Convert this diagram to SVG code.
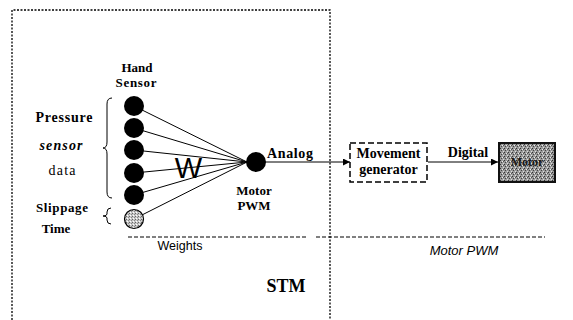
<svg xmlns="http://www.w3.org/2000/svg" width="573" height="320" viewBox="0 0 573 320">
<style>
.serif{font-family:"Liberation Serif","Times New Roman",serif;fill:#000}
.b{font-weight:bold}
.sans{font-family:"Liberation Sans",Arial,sans-serif;fill:#000}
.border{fill:none;stroke:#000;stroke-width:1.3;stroke-dasharray:2 1.5}
.wire{stroke:#000;stroke-width:1;fill:none}
.node{fill:#000}
</style>
<defs>
<pattern id="stip" width="4" height="4" patternUnits="userSpaceOnUse">
<rect width="4" height="4" fill="#9a9a9a"/>
<rect x="0" y="0" width="1" height="1" fill="#333"/>
<rect x="2" y="1" width="1" height="1" fill="#eee"/>
<rect x="1" y="2" width="1" height="1" fill="#444"/>
<rect x="3" y="3" width="1" height="1" fill="#ddd"/>
<rect x="3" y="1" width="1" height="1" fill="#555"/>
</pattern>
<pattern id="stipL" width="3" height="3" patternUnits="userSpaceOnUse">
<rect width="3" height="3" fill="#c8c8c8"/>
<rect x="0" y="0" width="1" height="1" fill="#666"/>
<rect x="2" y="1" width="1" height="1" fill="#888"/>
<rect x="1" y="2" width="1" height="1" fill="#fff"/>
</pattern>
<marker id="arr" viewBox="0 0 10 10" refX="10" refY="5" markerWidth="7" markerHeight="7" markerUnits="userSpaceOnUse" orient="auto">
<path d="M0,0 L10,5 L0,10 z" fill="#000"/>
</marker>
</defs>

<g id="stm-region">
<path class="border" d="M12,320 L12,10 L330,10 L330,320"/>
<text class="serif b" x="286" y="292" font-size="18" text-anchor="middle">STM</text>
</g>

<g id="separator">
<path d="M128,237 L308,237 M316,237 L545,237" stroke="#000" stroke-width="1" stroke-dasharray="4 2" fill="none"/>
<text class="sans" x="180" y="250" font-size="12.5" text-anchor="middle">Weights</text>
<text class="sans" x="464" y="255" font-size="13" font-style="italic" text-anchor="middle">Motor PWM</text>
</g>

<g id="labels">
<text class="serif b" x="137" y="72" font-size="13" text-anchor="middle">Hand</text>
<text class="serif b" x="136" y="87" font-size="13" text-anchor="middle" textLength="41" lengthAdjust="spacing">Sensor</text>
<text class="serif b" x="64" y="122" font-size="14" text-anchor="middle" textLength="57" lengthAdjust="spacing">Pressure</text>
<text class="serif b" x="61" y="150" font-size="14" font-style="italic" text-anchor="middle" textLength="43" lengthAdjust="spacing">sensor</text>
<text class="serif" x="62" y="175" font-size="14" text-anchor="middle" textLength="27" lengthAdjust="spacing">data</text>
<text class="serif b" x="62" y="212" font-size="13" text-anchor="middle" textLength="52" lengthAdjust="spacing">Slippage</text>
<text class="serif b" x="56" y="233" font-size="13" text-anchor="middle">Time</text>
<path d="M112,98 Q107,98 107,104 L107,142 Q107,148 103,148 Q107,148 107,154 L107,192 Q107,198 112,198" class="wire"/>
<path d="M111,208 Q107,208 107,212 L107,214 Q107,216 103,216 Q107,216 107,218 L107,220 Q107,224 111,224" class="wire"/>
</g>

<g id="connectors">
<line class="wire" x1="134" y1="106" x2="247" y2="162"/>
<line class="wire" x1="134" y1="128" x2="247" y2="162"/>
<line class="wire" x1="134" y1="150" x2="247" y2="162"/>
<line class="wire" x1="134" y1="173" x2="247" y2="162"/>
<line class="wire" x1="134" y1="195" x2="247" y2="162"/>
<line class="wire" x1="134" y1="219" x2="247" y2="162"/>
<line class="wire" x1="265" y1="162" x2="350" y2="162" marker-end="url(#arr)"/>
<line class="wire" x1="428" y1="162" x2="498" y2="162" marker-end="url(#arr)"/>
<text class="sans" x="188.5" y="178" font-size="29" text-anchor="middle">W</text>
<text class="serif b" x="290" y="158" font-size="14" text-anchor="middle" textLength="46" lengthAdjust="spacing">Analog</text>
<text class="serif b" x="468" y="157" font-size="14" text-anchor="middle">Digital</text>
</g>

<g id="input-1"><circle class="node" cx="134" cy="106" r="10"/></g>
<g id="input-2"><circle class="node" cx="134" cy="128" r="10"/></g>
<g id="input-3"><circle class="node" cx="134" cy="150" r="10"/></g>
<g id="input-4"><circle class="node" cx="134" cy="173" r="10"/></g>
<g id="input-5"><circle class="node" cx="134" cy="195" r="10"/></g>
<g id="input-slippage"><circle cx="134" cy="219" r="9.5" fill="url(#stipL)" stroke="#000" stroke-width="1.2"/></g>

<g id="output-node">
<circle class="node" cx="256" cy="162" r="10"/>
<text class="serif b" x="254" y="195" font-size="13" text-anchor="middle">Motor</text>
<text class="serif b" x="254" y="210" font-size="13" text-anchor="middle">PWM</text>
</g>

<g id="movement-generator">
<rect x="350" y="143" width="77" height="39" fill="#fff" stroke="#000" stroke-width="1.5" stroke-dasharray="6 3"/>
<text class="serif b" x="388.5" y="158" font-size="14" text-anchor="middle">Movement</text>
<text class="serif b" x="388.5" y="174" font-size="14" text-anchor="middle">generator</text>
</g>

<g id="motor">
<rect x="499" y="143" width="56" height="39" fill="url(#stip)" stroke="#111" stroke-width="2"/>
<text class="serif b" x="527" y="166" font-size="12" text-anchor="middle" style="fill:#1a1a1a">Motor</text>
</g>
</svg>
